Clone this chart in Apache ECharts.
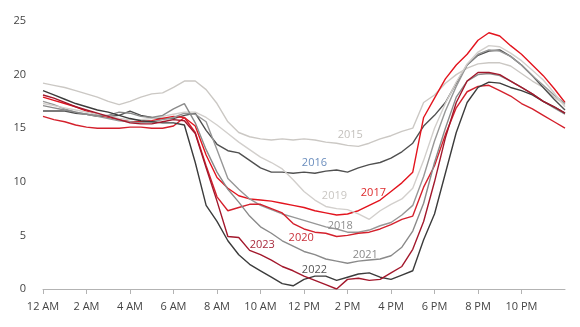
<!DOCTYPE html>
<html>
<head>
<meta charset="utf-8">
<script src="https://cdn.jsdelivr.net/npm/echarts@6/dist/echarts.min.js"></script>
<style>
  html, body { margin: 0; padding: 0; background: #fff; }
  #chart { width: 580px; height: 327px; }
</style>
</head>
<body>
<div id="chart"></div>
<script>
// Half-hour slots across the day, 0 h to 24 h
const hours = Array.from({ length: 49 }, (_, i) => i / 2);

// X-axis tick labels every two hours
const tickHours = [0, 2, 4, 6, 8, 10, 12, 14, 16, 18, 20, 22];
const tickLabels = ['12 AM', '2 AM', '4 AM', '6 AM', '8 AM', '10 AM', '12 PM', '2 PM', '4 PM', '6 PM', '8 PM', '10 PM'];

// Average daily profile per year
const y2015 = [19.2,19.0,18.8,18.5,18.2,17.9,17.5,17.2,17.5,17.9,18.2,18.3,18.8,19.4,19.4,18.6,17.3,15.6,14.6,14.2,14.0,13.9,14.0,13.9,14.0,13.9,13.7,13.6,13.4,13.3,13.6,14.0,14.3,14.7,15.0,17.4,18.1,19.2,20.0,20.6,21.0,21.1,21.1,20.8,20.1,19.4,18.8,17.9,17.2];
const y2016 = [16.6,16.6,16.6,16.4,16.3,16.1,16.1,16.2,16.6,16.2,16.0,15.9,15.9,16.2,16.4,14.8,13.5,12.9,12.7,12.0,11.3,10.9,10.9,10.8,10.9,10.8,11.0,11.1,10.9,11.3,11.6,11.8,12.2,12.8,13.6,15.2,16.2,17.4,19.2,20.9,21.8,22.2,22.3,21.7,20.9,19.9,18.8,17.7,16.7];
const y2017 = [17.9,17.6,17.3,17.0,16.6,16.3,16.0,15.8,15.6,15.6,15.7,15.9,16.1,16.0,15.2,12.5,10.4,9.4,8.7,8.4,8.3,8.2,8.0,7.8,7.6,7.3,7.1,6.9,7.0,7.3,7.8,8.3,9.1,9.9,10.9,16.0,17.8,19.6,20.9,21.9,23.2,23.9,23.6,22.7,21.9,20.9,19.9,18.7,17.4];
const y2018 = [17.5,17.2,16.8,16.5,16.3,16.1,15.9,15.7,15.6,15.5,15.6,15.8,16.0,16.4,16.3,15.6,13.0,10.3,9.3,8.4,7.8,7.4,7.0,6.7,6.4,6.1,5.8,5.6,5.3,5.3,5.5,5.9,6.2,6.9,7.8,10.5,13.8,16.6,18.9,20.9,21.9,22.3,22.2,21.7,20.9,19.9,19.0,18.1,17.3];
const y2019 = [17.3,17.1,16.9,16.7,16.5,16.3,16.1,15.9,15.8,15.8,15.9,16.1,16.3,16.5,16.5,16.0,15.3,14.5,13.7,13.0,12.3,11.8,11.2,10.2,9.1,8.3,7.7,7.5,7.4,7.0,6.5,7.3,7.9,8.4,9.4,12.0,15.0,17.3,19.3,21.0,22.1,22.7,22.6,22.0,21.3,20.4,19.5,18.3,17.0];
const y2020 = [16.1,15.8,15.6,15.3,15.1,15.0,15.0,15.0,15.1,15.1,15.0,15.0,15.2,16.0,14.6,11.5,8.6,7.3,7.6,7.9,7.9,7.5,7.1,6.1,5.6,5.3,5.2,4.9,5.0,5.2,5.3,5.6,6.0,6.5,6.8,9.5,11.5,14.4,16.9,18.4,18.9,19.0,18.5,18.0,17.3,16.8,16.2,15.6,15.0];
const y2021 = [17.1,16.9,16.7,16.5,16.3,16.2,16.2,16.5,16.4,16.1,16.0,16.2,16.8,17.3,15.5,13.0,10.9,9.3,8.1,6.8,5.8,5.2,4.5,4.0,3.5,3.2,2.8,2.6,2.4,2.6,2.7,2.8,3.1,3.9,5.4,8.0,11.8,15.0,17.9,19.4,20.0,20.1,19.9,19.4,18.8,18.2,17.5,16.9,16.3];
const y2022 = [18.5,18.1,17.7,17.3,17.0,16.7,16.5,16.2,15.9,15.7,15.6,15.5,15.5,15.3,11.8,7.8,6.3,4.5,3.2,2.3,1.7,1.1,0.5,0.3,0.9,1.2,1.2,0.8,1.1,1.4,1.5,1.1,0.9,1.3,1.7,4.6,7.0,10.8,14.6,17.4,18.8,19.3,19.2,18.8,18.5,18.1,17.5,17.0,16.4];
const y2023 = [18.1,17.8,17.4,17.0,16.7,16.4,16.1,15.8,15.5,15.4,15.4,15.6,15.8,15.7,14.5,11.3,8.2,4.9,4.8,3.6,3.2,2.7,2.1,1.7,1.2,0.8,0.4,0.0,0.9,1.0,0.8,0.9,1.5,2.1,3.7,6.3,10.0,14.1,17.4,19.4,20.2,20.2,20.0,19.4,18.8,18.2,17.5,17.0,16.4];

// Year names, line colours, label colours and label anchors (hour, value)
const years       = ['2015', '2016', '2017', '2018', '2019', '2020', '2021', '2022', '2023'];
const yearValues  = [y2015, y2016, y2017, y2018, y2019, y2020, y2021, y2022, y2023];
const lineColors  = ['#cbc8c4', '#505050', '#e3141e', '#979797', '#d2cfcc', '#d4202c', '#8a8a8a', '#3c3c3c', '#a3182c'];
const labelColors = ['#c3c0bc', '#6a8dbd', '#dd2a2c', '#8f8f8f', '#c9c6c2', '#c9303a', '#8a8a8a', '#555555', '#a82a3c'];
const labelHour   = [14.13, 12.48, 15.19, 13.67, 13.40, 11.87, 14.82, 12.48, 10.08];
const labelValue  = [14.37, 11.75, 8.96, 5.88, 8.68, 4.76, 3.17, 1.77, 4.10];

const FONT = '"Open Sans", "Noto Sans", sans-serif';

const series = years.map((name, k) => ({
  name,
  type: 'line',
  data: hours.map((h, i) => [h, yearValues[k][i]]),
  showSymbol: false,
  symbol: 'none',
  lineStyle: { color: lineColors[k], width: 1.4 },
  itemStyle: { color: lineColors[k] },
  animation: false,
  markPoint: {
    silent: true,
    animation: false,
    symbol: 'circle',
    symbolSize: 1,
    itemStyle: { color: 'rgba(0,0,0,0)' },
    label: {
      show: true,
      position: 'inside',
      formatter: name,
      color: labelColors[k],
      fontSize: 11,
      fontFamily: FONT
    },
    data: [{ coord: [labelHour[k], labelValue[k]] }]
  }
}));

const chart = echarts.init(document.getElementById('chart'), null, { renderer: 'canvas' });
chart.setOption({
  animation: false,
  backgroundColor: '#ffffff',
  grid: { left: 43, right: 15, top: 21, bottom: 38, containLabel: false },
  xAxis: {
    type: 'value',
    min: 0,
    max: 24,
    interval: 2,
    axisLine: { show: true, lineStyle: { color: '#b3b3b3', width: 1 } },
    axisTick: { show: true, length: 5, customValues: tickHours, lineStyle: { color: '#b3b3b3' } },
    axisLabel: {
      customValues: tickHours,
      formatter: v => tickLabels[tickHours.indexOf(v)] || '',
      margin: 12,
      color: '#444',
      fontSize: 11,
      fontFamily: FONT
    },
    splitLine: { show: false }
  },
  yAxis: {
    type: 'value',
    min: 0,
    max: 25,
    interval: 5,
    axisLine: { show: false },
    axisTick: { show: false },
    splitLine: { show: false },
    axisLabel: { margin: 17, color: '#444', fontSize: 11, fontFamily: FONT }
  },
  series
});
</script>
</body>
</html>
